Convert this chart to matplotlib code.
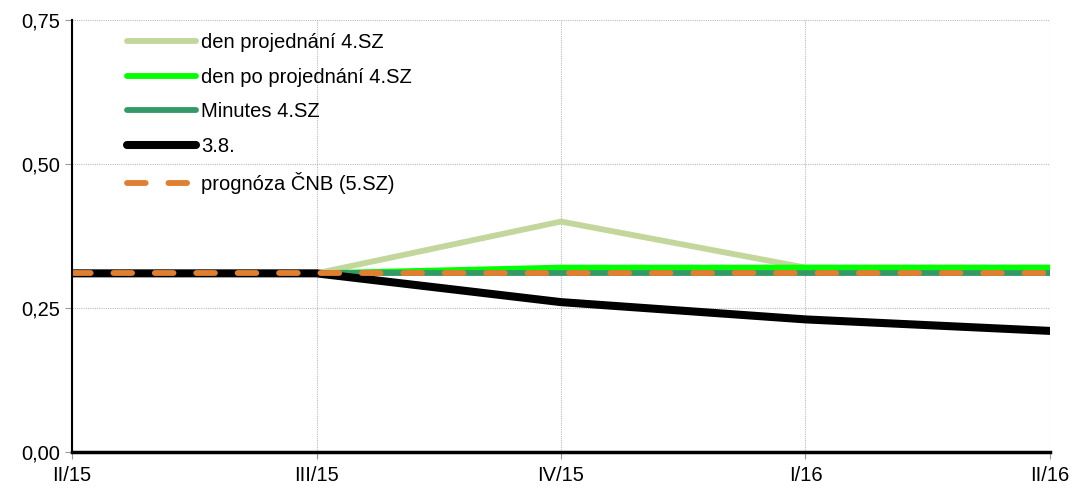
import matplotlib
matplotlib.use("Agg")
import matplotlib.pyplot as plt

plt.rcParams["font.family"] = ["Liberation Sans", "DejaVu Sans"]

quarters = ["II/15", "III/15", "IV/15", "I/16", "II/16"]
den_projednani = [0.31, 0.31, 0.40, 0.32, 0.32]
den_po_projednani = [0.31, 0.31, 0.32, 0.32, 0.32]
minutes = [0.31, 0.31, 0.31, 0.31, 0.31]
srpen = [0.31, 0.31, 0.26, 0.23, 0.21]
prognoza = [0.31, 0.31, 0.31, 0.31, 0.31]

x = range(len(quarters))

fig = plt.figure(figsize=(10.75, 4.9), dpi=100)
ax = fig.add_axes([0.067, 0.078, 0.9097, 0.881])

ax.plot(x, den_projednani, color="#C3D69B", lw=4.2, label="den projednání 4.SZ", solid_capstyle="round")
ax.plot(x, den_po_projednani, color="#00FF00", lw=4.2, label="den po projednání 4.SZ", solid_capstyle="round")
ax.plot(x, minutes, color="#339966", lw=4.2, label="Minutes 4.SZ", solid_capstyle="round")
ax.plot(x, srpen, color="black", lw=5.8, label="3.8.", solid_capstyle="round")
ax.plot(x, prognoza, color="#E07F30", lw=4.2, label="prognóza ČNB (5.SZ)",
        dashes=(3.2, 3.9), dash_capstyle="round")

ax.set_xlim(0, len(quarters) - 1)
ax.set_ylim(0, 0.75)
ax.set_xticks(list(x))
ax.set_xticklabels(quarters)
ax.set_yticks([0, 0.25, 0.5, 0.75])
ax.set_yticklabels(["0,00", "0,25", "0,50", "0,75"])
ax.tick_params(labelsize=14.5, length=5, color="#999999", width=0.8)
ax.tick_params(axis="x", pad=5)

ax.grid(True, color="#BBBBBB", linestyle=(0, (1, 1)), linewidth=0.8)
ax.set_axisbelow(True)
for side in ["top", "right"]:
    ax.spines[side].set_visible(False)
ax.spines["left"].set_linewidth(1.5)
ax.spines["bottom"].set_linewidth(2.5)

ax.legend(loc="upper left", bbox_to_anchor=(0.038, 1.012), frameon=False, fontsize=14.5,
          handlelength=3.4, handletextpad=0.25, labelspacing=0.78)

fig.savefig("out.png", dpi=100)
